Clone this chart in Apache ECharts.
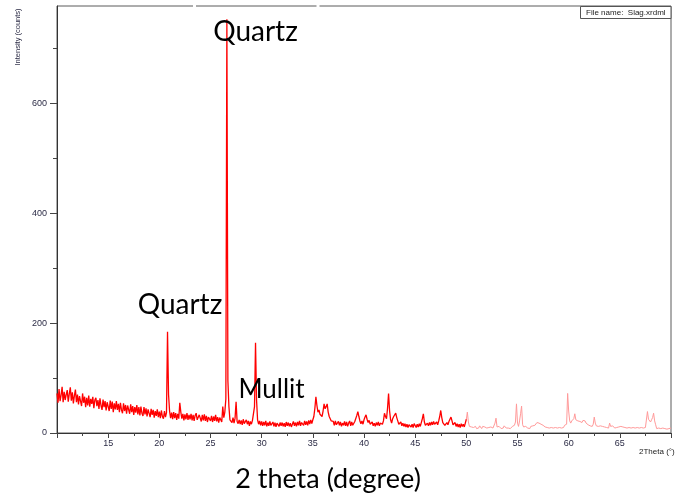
<!DOCTYPE html>
<html>
<head>
<meta charset="utf-8">
<script src="https://cdn.jsdelivr.net/npm/echarts@6/dist/echarts.min.js"></script>
<style>
html,body{margin:0;padding:0;background:#fff;}
#chart{width:678px;height:496px;}
</style>
</head>
<body>
<div id="chart"></div>
<script>
// 2theta scan grid (degrees)
const redStart = 10.0;
const pinkStart = 50.0;
const scanStep = 0.1;

// Intensity (counts), 10.0..50.0 in 0.1 deg steps (dark red trace)
const redCounts = [
  72,55,80,58,69,84,56,75,60,70,
  78,57,71,83,59,74,54,68,79,56,
  70,52,67,58,49,72,55,66,47,64,
  50,68,48,62,53,66,45,60,64,49,
  60,44,63,50,42,61,47,58,41,56,
  55,40,59,44,57,38,54,43,58,42,
  53,38,55,42,36,54,40,51,35,50,
  48,35,52,38,49,33,47,37,51,34,
  47,32,48,36,31,47,34,45,30,43,
  42,29,44,33,42,28,40,31,43,29,
  39,27,41,30,26,40,29,37,184,70,
  40,27,37,25,38,27,36,24,35,26,
  55,38,26,35,23,34,25,36,24,33,
  25,35,23,33,22,32,36,24,21,33,
  30,21,33,23,34,22,31,20,29,32,
  22,31,20,30,22,33,21,29,19,28,
  24,20,48,28,38,62,753,95,48,24,
  26,19,28,18,27,57,21,17,24,16,
  23,15,25,17,14,24,16,22,13,21,
  16,23,26,48,164,60,24,16,22,14,
  21,13,20,14,22,12,19,13,21,14,
  13,20,12,19,11,18,21,12,19,13,
  19,12,18,11,20,13,19,12,18,11,
  14,21,13,19,12,20,14,22,13,19,
  20,14,22,15,21,14,23,16,24,17,
  24,30,45,66,50,38,42,34,36,30,
  40,53,44,48,53,38,30,26,22,20,
  21,14,22,15,13,21,14,20,12,18,
  14,21,13,20,12,18,22,13,20,14,
  17,21,24,32,39,30,22,17,22,16,
  24,29,33,25,19,23,16,14,20,13,
  18,12,19,14,20,13,18,21,16,22,
  36,30,26,45,72,40,24,18,26,30,
  32,36,28,22,16,14,20,13,18,12,
  17,11,16,10,15,18,11,16,10,17,
  15,10,16,11,17,12,19,26,35,20,
  14,12,18,13,19,14,20,15,21,16,
  18,20,15,22,30,41,28,19,17,14,
  13,19,15,21,25,29,22,15,13,19,
  12,17,11,16,10,17,12,16,11,18,
  25
];

// Intensity (counts), 50.0..70.0 in 0.1 deg steps (faded trace)
const pinkCounts = [
  25,38,20,12,9,11,8,10,9,12,
  8,11,9,13,10,8,12,9,11,10,
  9,12,10,8,11,13,9,12,18,27,
  11,9,12,10,8,11,9,13,10,9,
  12,9,11,8,10,12,9,14,20,53,
  18,12,22,35,49,15,11,9,12,10,
  9,11,8,12,10,13,11,14,16,19,
  21,18,20,16,19,14,13,11,12,10,
  11,9,12,10,13,9,11,10,12,9,
  12,10,13,9,11,10,14,12,16,72,
  40,22,18,22,20,26,35,24,27,22,
  25,21,24,19,23,20,22,18,17,15,
  14,13,15,12,16,29,18,13,14,12,
  11,13,10,12,9,11,13,10,12,9,
  18,12,10,13,11,9,12,10,13,11,
  10,12,9,11,13,10,12,9,11,10,
  12,9,11,10,13,9,12,10,11,9,
  8,10,7,9,8,10,7,39,25,22,
  20,24,28,36,22,15,8,7,9,6,
  8,7,9,6,8,10,7,9,8,10,
  9
];

// Axis ticks / labels
const xLabelTicks = [15,20,25,30,35,40,45,50,55,60,65];
const yLabelTicks = [0,200,400,600];
const yMinorTicks = [100,300,500,700];
const xMin = 10, xMax = 70, yMin = 0, yMax = 777;

// Annotations
const peakLabels = ['Quartz','Quartz','Mullit'];
const xTitle = '2 theta (degree)';
const yTitle = 'Intensity (counts)';
const xUnitLabel = '2Theta (°)';
const fileLabel = 'File name:  Slag.xrdml';

function toPairs(start, arr){
  return arr.map((c,i)=>[Math.round((start + i*scanStep)*10)/10, c]);
}

const chart = echarts.init(document.getElementById('chart'), null, {renderer:'canvas'});
const labelColor = '#2b2b45';
const smallFont = 'Liberation Sans, Arial, sans-serif';
const bigFont = 'Lato, "Open Sans", sans-serif';

chart.setOption({
  animation:false,
  backgroundColor:'#ffffff',
  grid:{left:57, right:7, top:6, bottom:63, show:true, borderColor:'#5a5a5a', borderWidth:1, backgroundColor:'transparent'},
  xAxis:{
    type:'value', min:xMin, max:xMax, interval:5,
    axisLine:{show:true, lineStyle:{color:'#333', width:1}},
    axisTick:{show:true, length:5, lineStyle:{color:'#444'}},
    minorTick:{show:true, splitNumber:2, length:3, lineStyle:{color:'#444'}},
    splitLine:{show:false},
    axisLabel:{
      color:labelColor, fontSize:9, fontFamily:smallFont, margin:6,
      formatter:v=> xLabelTicks.indexOf(v) >= 0 ? String(v) : ''
    }
  },
  yAxis:[{
    type:'value', min:yMin, max:yMax,
    axisLine:{show:true, lineStyle:{color:'#333', width:1}},
    axisTick:{show:true, length:7, customValues:yLabelTicks, lineStyle:{color:'#444'}},
    splitLine:{show:false},
    axisLabel:{color:labelColor, fontSize:9, fontFamily:smallFont, margin:10, customValues:yLabelTicks}
  },{
    type:'value', min:yMin, max:yMax, position:'left',
    axisLine:{show:false},
    axisTick:{show:true, length:4, customValues:yMinorTicks, lineStyle:{color:'#444'}},
    splitLine:{show:false},
    axisLabel:{show:false}
  }],
  series:[{
    type:'line', data:toPairs(pinkStart, pinkCounts), showSymbol:false, symbol:'none',
    lineStyle:{color:'#ff9a9a', width:1}, z:2
  },{
    type:'line', data:toPairs(redStart, redCounts), showSymbol:false, symbol:'none',
    lineStyle:{color:'#ff0000', width:1.3}, z:3
  }],
  graphic:[
    {type:'rect', shape:{x:193, y:4, width:3, height:4}, style:{fill:'#fff'}, z:100},
    {type:'rect', shape:{x:316.5, y:4, width:3, height:4}, style:{fill:'#fff'}, z:100},
    {type:'rect', shape:{x:580.5, y:6.5, width:90.5, height:12}, style:{fill:'#fff', stroke:'#555', lineWidth:1}, z:100},
    {type:'text', x:586, y:12.5, style:{text:fileLabel, fontSize:8, fontFamily:smallFont, fill:'#222', verticalAlign:'middle'}, z:101},
    {type:'text', x:18, y:37, rotation:Math.PI/2, style:{text:yTitle, fontSize:7.5, fontFamily:smallFont, fill:labelColor, align:'center', verticalAlign:'middle'}, z:101},
    {type:'text', x:639, y:452, style:{text:xUnitLabel, fontSize:8, fontFamily:smallFont, fill:'#222', verticalAlign:'middle'}, z:101},
    {type:'text', x:255.5, y:32, style:{text:peakLabels[0], fontSize:28, fontFamily:bigFont, fill:'#000', align:'center', verticalAlign:'middle'}, z:101},
    {type:'text', x:180, y:305, style:{text:peakLabels[1], fontSize:28, fontFamily:bigFont, fill:'#000', align:'center', verticalAlign:'middle'}, z:101},
    {type:'text', x:271.5, y:390, style:{text:peakLabels[2], fontSize:26, fontFamily:bigFont, fill:'#000', align:'center', verticalAlign:'middle'}, z:101},
    {type:'text', x:328, y:479, style:{text:xTitle, fontSize:27, fontFamily:bigFont, fill:'#000', align:'center', verticalAlign:'middle'}, z:101}
  ]
});
</script>
</body>
</html>
